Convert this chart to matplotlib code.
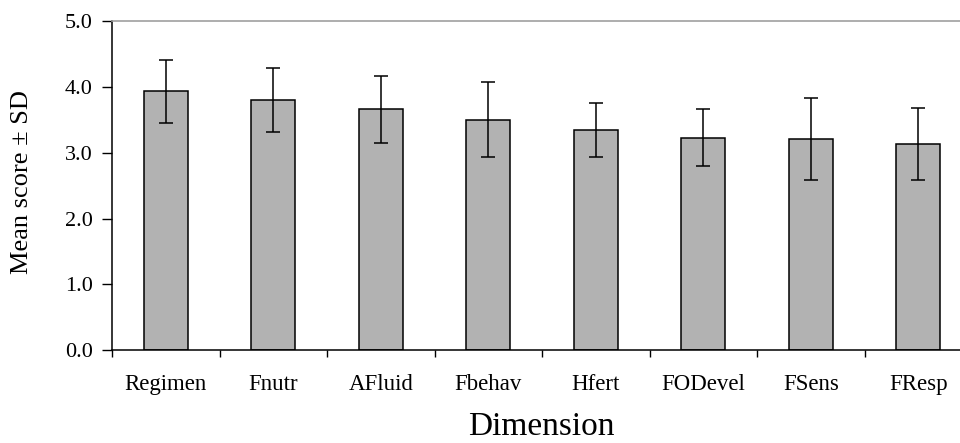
import matplotlib
matplotlib.use("Agg")
import matplotlib.pyplot as plt
import numpy as np

categories = ["Regimen", "Fnutr", "AFluid", "Fbehav", "Hfert", "FODevel", "FSens", "FResp"]
means = [3.93, 3.80, 3.66, 3.50, 3.34, 3.23, 3.21, 3.13]
sds = [0.48, 0.49, 0.51, 0.57, 0.41, 0.43, 0.62, 0.55]
yticks = [0.0, 1.0, 2.0, 3.0, 4.0, 5.0]
ytick_labels = ["0.0", "1.0", "2.0", "3.0", "4.0", "5.0"]

plt.rcParams['font.family'] = ['Liberation Serif', 'DejaVu Serif']

W, H = 960, 443
fig = plt.figure(figsize=(W / 100, H / 100), dpi=100)
ax = fig.add_axes([112 / W, 1 - 350.3 / H, 860 / W, (350.3 - 21) / H])

x = np.arange(len(categories))
ax.bar(x, means, width=0.41, color="#b2b2b2", edgecolor="black", linewidth=1.1, zorder=2)
ax.errorbar(x, means, yerr=sds, fmt="none", ecolor="black", elinewidth=1.1,
            capsize=5, capthick=1.1, zorder=3)

ax.set_xlim(-0.5, len(categories) - 0.5)
ax.set_ylim(0, 5.0)

ax.set_yticks(yticks, labels=ytick_labels)
ax.tick_params(axis="y", direction="out", length=7, width=1, pad=7, labelsize=16)

ax.set_xticks(np.arange(-0.5, len(categories), 1))
ax.set_xticklabels([])
ax.tick_params(axis="x", which="major", direction="out", length=5, width=1)
ax.set_xticks(x, minor=True)
ax.set_xticklabels(categories, minor=True)
ax.tick_params(axis="x", which="minor", length=0, pad=17, labelsize=16.5)

for s in ["left", "bottom"]:
    ax.spines[s].set_color("black")
    ax.spines[s].set_linewidth(1.1)
ax.spines["right"].set_visible(False)
ax.spines["top"].set_color("#a0a0a0")
ax.spines["top"].set_linewidth(1.2)

fig.text(22.5 / W, 1 - 182.5 / H, "Mean score \u00b1 SD", rotation=90,
         ha="center", va="center", fontsize=19)
fig.text(541 / W, 1.0 / H, "Dimension", ha="center", va="bottom", fontsize=24)

fig.savefig("out.png", dpi=100)
